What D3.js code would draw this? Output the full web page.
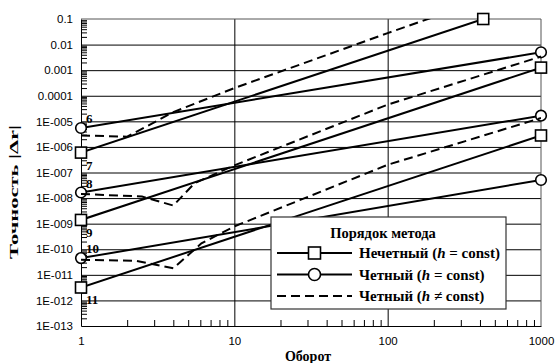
<!DOCTYPE html>
<html>
<head>
<meta charset="utf-8">
<script src="https://cdn.jsdelivr.net/npm/d3@7"></script>
<style>
  body { margin: 0; background: #fff; }
  svg { display: block; }
</style>
</head>
<body>
<div id="chart"></div>
<script>
// tick values and their labels
const xTickValues = [1, 10, 100, 1000];
const xTickLabels = ["1", "10", "100", "1000"];
const yTickValues = [1e-1, 1e-2, 1e-3, 1e-4, 1e-5, 1e-6, 1e-7, 1e-8, 1e-9, 1e-10, 1e-11, 1e-12, 1e-13];
const yTickLabels = ["0.1", "0.01", "0.001", "0.0001", "1E-005", "1E-006", "1E-007",
    "1E-008", "1E-009", "1E-010", "1E-011", "1E-012", "1E-013"];

// odd order, h = const (squares)
const oddOrders = [7, 9, 11];
const odd7X = [1, 420],  odd7Y = [6e-7, 0.1];
const odd9X = [1, 1000], odd9Y = [1.4e-9, 1.26e-3];
const odd11X = [1, 1000], odd11Y = [3.2e-12, 2.8e-6];

// even order, h = const (circles)
const evenOrders = [6, 8, 10];
const even6X = [1, 1000],  even6Y = [5.5e-6, 5e-3];
const even8X = [1, 1000],  even8Y = [1.65e-8, 1.67e-5];
const even10X = [1, 1000], even10Y = [4.5e-11, 5.1e-8];

// even order, h != const (dashed)
const var6X = [1, 2, 4, 10, 100, 200],      var6Y = [2.8e-6, 2.5e-6, 2.3e-5, 2e-4, 2.8e-2, 0.12];
const var8X = [1, 2.5, 4, 5.5, 10, 100, 1000],  var8Y = [1.45e-8, 1.15e-8, 5.1e-9, 3.8e-8, 1.9e-7, 4.5e-5, 3.4e-3];
const var10X = [1, 2.3, 4, 6.1, 10, 100, 1000], var10Y = [3.9e-11, 3.5e-11, 1.8e-11, 1.7e-10, 7.8e-10, 2e-7, 1.35e-5];

const legendLabels = ["Порядок метода", "Нечетный", "Четный", "Четный"];

const zip = (xs, ys) => xs.map((x, i) => ({ x, y: ys[i] }));
const oddSeries = [zip(odd7X, odd7Y), zip(odd9X, odd9Y), zip(odd11X, odd11Y)];
const evenSeries = [zip(even6X, even6Y), zip(even8X, even8Y), zip(even10X, even10Y)];
const varSeries = [zip(var6X, var6Y), zip(var8X, var8Y), zip(var10X, var10Y)];

const W = 556, H = 363;
const margin = { top: 19, right: 15, bottom: 37, left: 81 };
const width = W - margin.left - margin.right;
const height = H - margin.top - margin.bottom;

const serif = "'Liberation Serif', 'Times New Roman', serif";
const sans = "'Liberation Sans', Arial, sans-serif";

const svgRoot = d3.select("#chart").append("svg")
    .attr("width", W).attr("height", H);

const svg = svgRoot.append("g")
    .attr("transform", `translate(${margin.left},${margin.top})`);

const x = d3.scaleLog().domain([1, 1000]).range([0, width]);
const y = d3.scaleLog().domain([1e-13, 0.1]).range([height, 0]);

svgRoot.append("defs").append("clipPath").attr("id", "plot-clip")
    .append("rect").attr("width", width).attr("height", height);

// gridlines
svg.append("g")
    .call(d3.axisLeft(y).tickValues(yTickValues.slice(1, -1)).tickSize(-width).tickFormat(""))
    .call(g => g.select(".domain").remove())
    .selectAll("line").attr("stroke", "#000");
svg.append("g")
    .attr("transform", `translate(0,${height})`)
    .call(d3.axisBottom(x).tickValues([10, 100]).tickSize(-height).tickFormat(""))
    .call(g => g.select(".domain").remove())
    .selectAll("line").attr("stroke", "#000");

// plot border top / right
svg.append("path")
    .attr("d", `M0,0H${width}V${height}`)
    .attr("fill", "none").attr("stroke", "#555");

// minor ticks
const yMinor = [];
for (let e = -13; e < -1; e++) for (let m = 2; m <= 9; m++) yMinor.push(m * Math.pow(10, e));
const xMinor = [];
for (let e = 0; e < 3; e++) for (let m = 2; m <= 9; m++) xMinor.push(m * Math.pow(10, e));

svg.append("g")
    .call(d3.axisLeft(y).tickValues(yMinor).tickSize(-6).tickFormat(""))
    .call(g => g.select(".domain").remove())
    .selectAll("line").attr("stroke", "#000");
svg.append("g")
    .attr("transform", `translate(0,${height})`)
    .call(d3.axisBottom(x).tickValues(xMinor).tickSize(-6).tickFormat(""))
    .call(g => g.select(".domain").remove())
    .selectAll("line").attr("stroke", "#000");

// main axes with labels
const yAxis = svg.append("g")
    .call(d3.axisLeft(y).tickValues(yTickValues).tickSize(0).tickPadding(8)
        .tickFormat((d, i) => yTickLabels[i]));
yAxis.select(".domain").attr("stroke", "#000");
yAxis.selectAll("text").attr("font-family", sans).attr("font-size", "11.5px").attr("fill", "#000");

const xAxis = svg.append("g")
    .attr("transform", `translate(0,${height})`)
    .call(d3.axisBottom(x).tickValues(xTickValues).tickSize(0).tickPadding(11)
        .tickFormat((d, i) => xTickLabels[i]));
xAxis.select(".domain").attr("stroke", "#000");
xAxis.selectAll("text").attr("font-family", sans).attr("font-size", "11.5px").attr("fill", "#000");

// series
const line = d3.line().x(d => x(d.x)).y(d => y(d.y));
const plot = svg.append("g");

function drawSeries(data, dashed, marker) {
    plot.append("path")
        .datum(data)
        .attr("clip-path", "url(#plot-clip)")
        .attr("fill", "none")
        .attr("stroke", "#000")
        .attr("stroke-width", 2)
        .attr("stroke-dasharray", dashed ? "9,5" : null)
        .attr("d", line);
    if (marker === "square") {
        plot.selectAll(null).data(data).enter().append("rect")
            .attr("x", d => x(d.x) - 5.5).attr("y", d => y(d.y) - 5.5)
            .attr("width", 11).attr("height", 11)
            .attr("fill", "#fff").attr("stroke", "#000").attr("stroke-width", 1.6);
    } else if (marker === "circle") {
        plot.selectAll(null).data(data).enter().append("circle")
            .attr("cx", d => x(d.x)).attr("cy", d => y(d.y)).attr("r", 5.3)
            .attr("fill", "#fff").attr("stroke", "#000").attr("stroke-width", 1.6);
    }
}
oddSeries.forEach(s => drawSeries(s, false, "square"));
evenSeries.forEach(s => drawSeries(s, false, "circle"));
varSeries.forEach(s => drawSeries(s, true, null));

// order labels next to the first points
const orderLabels = plot.append("g")
    .attr("font-family", serif).attr("font-weight", "bold").attr("font-size", "13px");
evenSeries.forEach((s, i) => {
    orderLabels.append("text")
        .attr("x", x(s[0].x) + 5).attr("y", y(s[0].y) - 5)
        .text(evenOrders[i]);
});
oddSeries.forEach((s, i) => {
    orderLabels.append("text")
        .attr("x", x(s[0].x) + 5).attr("y", y(s[0].y) + 17)
        .text(oddOrders[i]);
});

// axis titles
svg.append("text")
    .attr("x", width / 2 - 3).attr("y", height + 35)
    .attr("text-anchor", "middle")
    .attr("font-family", serif).attr("font-weight", "bold").attr("font-size", "14px")
    .text("Оборот");

svgRoot.append("text")
    .attr("transform", "translate(18,192) rotate(-90)")
    .attr("text-anchor", "middle")
    .attr("font-family", serif).attr("font-weight", "bold").attr("font-size", "13.5px")
    .attr("textLength", 134).attr("lengthAdjust", "spacingAndGlyphs")
    .text("Точность |Δr|");

// legend
const lg = svg.append("g").attr("transform", "translate(190,198)");
lg.append("rect")
    .attr("width", 235).attr("height", 92)
    .attr("fill", "#fff").attr("stroke", "#333").attr("stroke-width", 1.2);
lg.append("text")
    .attr("x", 112).attr("y", 21)
    .attr("text-anchor", "middle")
    .attr("font-family", serif).attr("font-weight", "bold").attr("font-size", "14.5px")
    .text(legendLabels[0]);

const rows = [
    { label: legendLabels[1], sym: "=", marker: "square", dashed: false },
    { label: legendLabels[2], sym: "=", marker: "circle", dashed: false },
    { label: legendLabels[3], sym: "≠", marker: null, dashed: true }
];
rows.forEach((r, i) => {
    const ry = 36 + i * 21.5;
    lg.append("line")
        .attr("x1", 6).attr("x2", 81).attr("y1", ry).attr("y2", ry)
        .attr("stroke", "#000").attr("stroke-width", 2)
        .attr("stroke-dasharray", r.dashed ? "9,5" : null);
    if (r.marker === "square") {
        lg.append("rect").attr("x", 43.5 - 6).attr("y", ry - 6).attr("width", 12).attr("height", 12)
            .attr("fill", "#fff").attr("stroke", "#000").attr("stroke-width", 1.6);
    } else if (r.marker === "circle") {
        lg.append("circle").attr("cx", 43.5).attr("cy", ry).attr("r", 6)
            .attr("fill", "#fff").attr("stroke", "#000").attr("stroke-width", 1.6);
    }
    const t = lg.append("text")
        .attr("x", 88).attr("y", ry + 5)
        .attr("font-family", serif).attr("font-weight", "bold").attr("font-size", "15px");
    t.append("tspan").text(r.label + " (");
    t.append("tspan").attr("font-style", "italic").text("h");
    t.append("tspan").text(` ${r.sym} const)`);
});
</script>
</body>
</html>
